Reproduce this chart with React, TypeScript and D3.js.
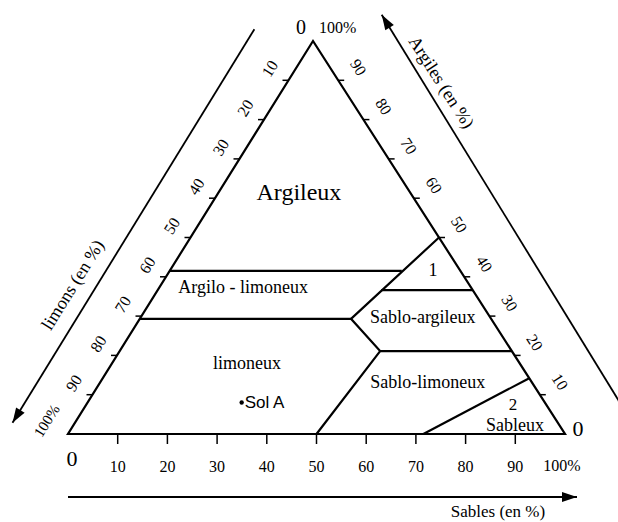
import React from 'react'
import { scaleLinear, line } from 'd3'

// graduations on the three sides (%)
const sandTicks = [10, 20, 30, 40, 50, 60, 70, 80, 90]
const siltTicks = [10, 20, 30, 40, 50, 60, 70, 80, 90]
const clayTicks = [90, 80, 70, 60, 50, 40, 30, 20, 10]

// class limits, each point is [sables %, argiles %]
const limitArgiloLimoneux = [[0, 41.5], [46.7, 41.5]]
const limitCentre = [[50, 50], [42.5, 29.3], [52.4, 21.1], [50, 0]]
const limitTriangle1 = [[45, 36.6], [63.4, 36.6]]
const limitLimoneux = [[0, 29.3], [42.5, 29.3]]
const limitSabloLimoneux = [[52.4, 21.1], [78.9, 21.1]]
const limitSableux = [[71.5, 0], [85.8, 14.2]]
const limits = [limitArgiloLimoneux, limitCentre, limitTriangle1, limitLimoneux, limitSabloLimoneux, limitSableux]

const classNames = ['Argileux', 'Argilo - limoneux', '1', 'Sablo-argileux', 'limoneux', 'Sablo-limoneux', '2', 'Sableux']

// soil sample [sables %, argiles %]
const solA = [31, 8]

const serif = '"Liberation Serif", "Times New Roman", serif'

export default function App() {
  const width = 618
  const height = 522

  const sandX = scaleLinear().domain([0, 100]).range([68, 565])
  const clayY = scaleLinear().domain([0, 100]).range([434, 41])
  const clayShift = scaleLinear().domain([0, 100]).range([0, 245])
  const pt = (s: number, c: number): [number, number] => [sandX(s) + clayShift(c), clayY(c)]

  const A = pt(0, 100)
  const L = pt(0, 0)
  const R = pt(100, 0)

  const lenL = Math.hypot(L[0] - A[0], L[1] - A[1])
  const dL = [(L[0] - A[0]) / lenL, (L[1] - A[1]) / lenL]
  const nL = [-dL[1], dL[0]]
  const lenR = Math.hypot(R[0] - A[0], R[1] - A[1])
  const dR = [(R[0] - A[0]) / lenR, (R[1] - A[1]) / lenR]
  const nR = [dR[1], -dR[0]]
  const angL = (Math.atan2(A[1] - L[1], A[0] - L[0]) * 180) / Math.PI
  const angR = (Math.atan2(R[1] - A[1], R[0] - A[0]) * 180) / Math.PI

  const along = (d: number[], n: number[], t: number, k: number): [number, number] =>
    [A[0] + d[0] * t + n[0] * k, A[1] + d[1] * t + n[1] * k]

  const path = line<number[]>().x(d => pt(d[0], d[1])[0]).y(d => pt(d[0], d[1])[1])

  const head = (from: number[], to: number[], len = 15, hw = 5) => {
    const l = Math.hypot(to[0] - from[0], to[1] - from[1])
    const ux = (to[0] - from[0]) / l
    const uy = (to[1] - from[1]) / l
    const bx = to[0] - ux * len
    const by = to[1] - uy * len
    return `${to[0]},${to[1]} ${bx - uy * hw},${by + ux * hw} ${bx + uy * hw},${by - ux * hw}`
  }

  const baseY = clayY(0)
  const leftArrow = [along(dL, nL, 21, 56), along(dL, nL, 483, 53)]
  const rightArrow = [along(dR, nR, 480, 63), along(dR, nR, 15, 72)]
  const bottomArrow = [[sandX(0), baseY + 63], [sandX(0) + 509, baseY + 63]]

  const classPos = [[16.1, 61.6], [16.8, 37.4], [52.9, 41.7], [56.7, 29.8], [27.1, 18.1], [65.9, 13.2], [85.9, 7.4], [88.8, 2.3]]
  const classSize = [24, 18, 18, 18, 18, 18, 17, 18]

  const leftTitle = along(dL, nL, 334, 75)
  const rightTitle = along(dR, nR, 104, 86)
  const sol = pt(solA[0], solA[1])

  return (
    <svg width={width} height={height} style={{ position: 'absolute', left: 0, top: 0, background: '#fff' }}
      fontFamily={serif} fill="#000">
      {/* triangle */}
      <polygon points={[A, L, R].map(p => p.join(',')).join(' ')} fill="none" stroke="#000" strokeWidth={2.2} strokeLinejoin="miter" />

      {limits.map((d, i) => (
        <path key={i} d={path(d) as string} fill="none" stroke="#000" strokeWidth={2.2} />
      ))}

      {/* bottom axis: sables */}
      {sandTicks.map(v => (
        <g key={v}>
          <line x1={sandX(v)} x2={sandX(v)} y1={baseY} y2={baseY + 10} stroke="#000" strokeWidth={1.5} />
          <text x={sandX(v)} y={baseY + 32} fontSize={16} textAnchor="middle" dominantBaseline="central">{v}</text>
        </g>
      ))}
      <text x={sandX(0) + 4} y={baseY + 24} fontSize={22} textAnchor="middle" dominantBaseline="central">0</text>
      <text x={sandX(100) - 3} y={baseY + 31} fontSize={16} textAnchor="middle" dominantBaseline="central">100%</text>

      {/* left axis: limons */}
      {siltTicks.map(v => {
        const p = pt(0, 100 - v)
        const q = [p[0] + nL[0] * 22, p[1] + nL[1] * 22]
        return (
          <g key={v}>
            <line x1={p[0]} x2={p[0] - 6} y1={p[1]} y2={p[1]} stroke="#000" strokeWidth={1.5} />
            <text x={q[0]} y={q[1]} fontSize={16} textAnchor="middle" dominantBaseline="central"
              transform={`rotate(${angL},${q[0]},${q[1]})`}>{v}</text>
          </g>
        )
      })}
      <text x={L[0] + nL[0] * 25} y={L[1] + nL[1] * 25} fontSize={15} textAnchor="middle" dominantBaseline="central"
        transform={`rotate(${angL},${L[0] + nL[0] * 25},${L[1] + nL[1] * 25})`}>100%</text>
      <text x={A[0] - 12} y={A[1] - 14} fontSize={20} textAnchor="middle" dominantBaseline="central">0</text>

      {/* right axis: argiles */}
      {clayTicks.map(v => {
        const p = pt(100 - v, v)
        const q = [p[0] + nR[0] * 24, p[1] + nR[1] * 24]
        return (
          <g key={v}>
            <line x1={p[0]} x2={p[0] + 6} y1={p[1]} y2={p[1]} stroke="#000" strokeWidth={1.5} />
            <text x={q[0]} y={q[1]} fontSize={16} textAnchor="middle" dominantBaseline="central"
              transform={`rotate(${angR},${q[0]},${q[1]})`}>{v}</text>
          </g>
        )
      })}
      <text x={A[0] + 6} y={A[1] - 14} fontSize={16} dominantBaseline="central">100%</text>
      <text x={R[0] + 13} y={R[1] - 6} fontSize={22} textAnchor="middle" dominantBaseline="central">0</text>

      {/* axis arrows */}
      <line x1={leftArrow[0][0]} y1={leftArrow[0][1]} x2={leftArrow[1][0]} y2={leftArrow[1][1]} stroke="#000" strokeWidth={1.8} />
      <polygon points={head(leftArrow[0], leftArrow[1])} fill="#000" />
      <line x1={rightArrow[0][0]} y1={rightArrow[0][1]} x2={rightArrow[1][0]} y2={rightArrow[1][1]} stroke="#000" strokeWidth={1.8} />
      <polygon points={head(rightArrow[0], rightArrow[1])} fill="#000" />
      <line x1={bottomArrow[0][0]} y1={bottomArrow[0][1]} x2={bottomArrow[1][0]} y2={bottomArrow[1][1]} stroke="#000" strokeWidth={1.8} />
      <polygon points={head(bottomArrow[0], bottomArrow[1])} fill="#000" />

      <text x={leftTitle[0]} y={leftTitle[1]} fontSize={18} textAnchor="middle" dominantBaseline="central"
        transform={`rotate(${angL},${leftTitle[0]},${leftTitle[1]})`}>limons (en %)</text>
      <text x={rightTitle[0]} y={rightTitle[1]} fontSize={18} textAnchor="middle" dominantBaseline="central"
        transform={`rotate(${angR},${rightTitle[0]},${rightTitle[1]})`}>Argiles (en %)</text>
      <text x={498} y={baseY + 77} fontSize={17} textAnchor="middle" dominantBaseline="central">Sables (en %)</text>

      {/* class names */}
      {classNames.map((name, i) => {
        const p = pt(classPos[i][0], classPos[i][1])
        return (
          <text key={name} x={p[0]} y={p[1]} fontSize={classSize[i]} textAnchor="middle" dominantBaseline="central">{name}</text>
        )
      })}

      {/* sample */}
      <circle cx={sol[0]} cy={sol[1]} r={2.2} fill="#000" />
      <text x={sol[0] + 3} y={sol[1]} fontSize={17} fontFamily='"Liberation Sans", Arial, sans-serif' dominantBaseline="central">Sol A</text>
    </svg>
  )
}
